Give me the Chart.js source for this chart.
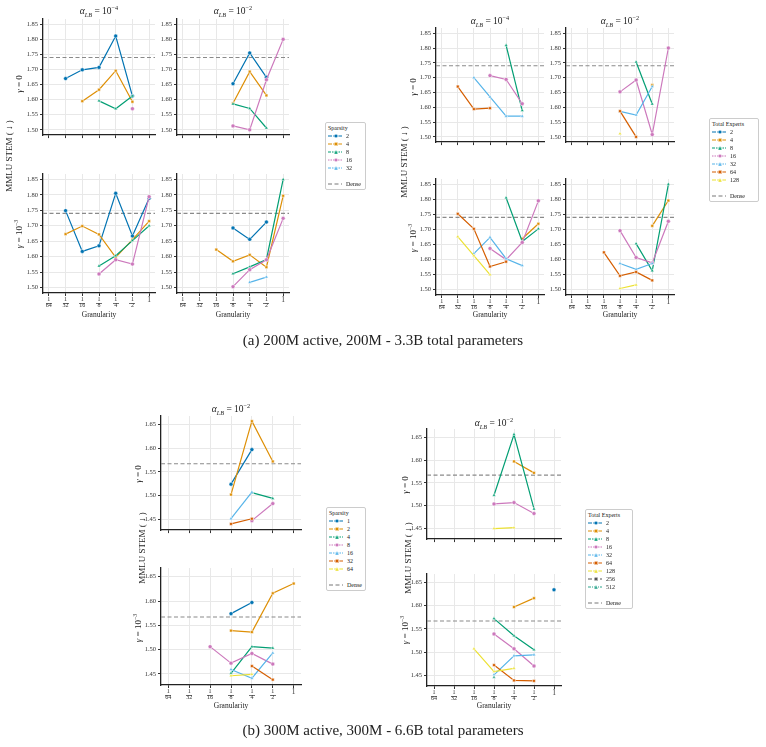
<!DOCTYPE html>
<html>
<head>
<meta charset="utf-8">
<script src="https://cdn.jsdelivr.net/npm/chart.js@4.4.0/dist/chart.umd.min.js"></script>
<style>
  body { margin: 0; width: 766px; height: 747px; position: relative; overflow: hidden; background: #fff;
         font-family: "Liberation Serif", "DejaVu Serif", serif; color: #222; }
  canvas { position: absolute; }
  .t { position: absolute; transform: translate(-50%, -50%); white-space: nowrap; }
  .r { position: absolute; transform: translate(-50%, -50%) rotate(-90deg); white-space: nowrap; }
  sub, sup { font-size: 65%; line-height: 0; }
  .leg { position: absolute; border: 1px solid #ccc; border-radius: 2px; background: #fff;
         font-size: 6px; line-height: 8px; padding: 1px 3px 1px 2px; box-sizing: border-box; }
  .leg .row { height: 8px; display: flex; align-items: center; }
  .leg svg { margin-right: 4px; }
</style>
</head>
<body>
<script>
// x categories (log2 granularity) and axis ticks
const granularity = ['1/64', '1/32', '1/16', '1/8', '1/4', '1/2', '1'];
const yTicks200M = [1.50, 1.55, 1.60, 1.65, 1.70, 1.75, 1.80, 1.85];
const yTicks300M = [1.45, 1.50, 1.55, 1.60, 1.65];
const yRange200M = [1.4825, 1.8675];
const yRange300M = [1.427, 1.668];
const dense200M = 1.74;
const dense300M = 1.567;

// hue levels
const sparsity200M = ['2', '4', '8', '16', '32'];
const experts200M = ['2', '4', '8', '16', '32', '64', '128'];
const sparsity300M = ['1', '2', '4', '8', '16', '32', '64'];
const experts300M = ['2', '4', '8', '16', '32', '64', '128', '256', '512'];

// (a) 200M, by sparsity
const a_sp_lb4_g0 = {
  '2':  [null, 1.670, 1.699, 1.707, 1.811, 1.612, null],
  '4':  [null, null, 1.595, 1.633, 1.696, 1.593, null],
  '8':  [null, null, null, 1.596, 1.570, 1.612, null],
  '16': [null, null, null, null, null, 1.570, null]
};
const a_sp_lb2_g0 = {
  '2':  [null, null, null, 1.653, 1.755, 1.674, null],
  '4':  [null, null, null, 1.588, 1.693, 1.614, null],
  '8':  [null, null, null, 1.586, 1.571, 1.506, null],
  '16': [null, null, null, 1.513, 1.500, 1.666, 1.800]
};
const a_sp_lb4_g3 = {
  '2':  [null, 1.749, 1.617, 1.635, 1.805, 1.667, 1.789],
  '4':  [null, 1.673, 1.699, 1.672, 1.598, 1.655, 1.715],
  '8':  [null, null, null, 1.570, 1.603, 1.652, 1.700],
  '16': [null, null, null, 1.544, 1.590, 1.576, 1.794]
};
const a_sp_lb2_g3 = {
  '2':  [null, null, null, 1.693, 1.656, 1.712, null],
  '4':  [null, null, 1.623, 1.585, 1.606, 1.566, 1.797],
  '8':  [null, null, null, 1.545, 1.567, 1.591, 1.850],
  '16': [null, null, null, 1.503, 1.558, 1.590, 1.724],
  '32': [null, null, null, null, 1.517, 1.534, null]
};

// (a) 200M, by total experts
const a_ex_lb4_g0 = {
  '8':  [null, null, null, null, 1.809, 1.589, null],
  '16': [null, null, null, 1.707, 1.694, 1.612, null],
  '32': [null, null, 1.700, 1.635, 1.570, 1.570, null],
  '64': [null, 1.670, 1.594, 1.597, null, null, null]
};
const a_ex_lb2_g0 = {
  '4':   [null, null, null, null, null, 1.675, null],
  '8':   [null, null, null, null, 1.753, 1.611, null],
  '16':  [null, null, null, 1.652, 1.692, 1.508, 1.800],
  '32':  [null, null, null, 1.586, 1.574, 1.670, null],
  '64':  [null, null, null, 1.587, 1.500, null, null],
  '128': [null, null, null, 1.511, null, null, null]
};
const a_ex_lb4_g3 = {
  '4':   [null, null, null, null, null, 1.669, 1.719],
  '8':   [null, null, null, null, 1.805, 1.660, 1.702],
  '16':  [null, null, null, 1.637, 1.600, 1.657, 1.795],
  '32':  [null, null, 1.620, 1.674, 1.603, 1.580, null],
  '64':  [null, 1.752, 1.702, 1.577, 1.593, null, null],
  '128': [null, 1.676, 1.613, 1.550, null, null, null]
};
const a_ex_lb2_g3 = {
  '4':   [null, null, null, null, null, 1.712, 1.796],
  '8':   [null, null, null, null, 1.653, 1.563, 1.850],
  '16':  [null, null, null, 1.696, 1.607, 1.589, 1.727],
  '32':  [null, null, null, 1.587, 1.568, 1.587, null],
  '64':  [null, null, 1.624, 1.546, 1.559, 1.531, null],
  '128': [null, null, null, 1.504, 1.516, null, null]
};

// (b) 300M, by sparsity
const b_sp_g0 = {
  '1':  [null, null, null, 1.524, 1.597, null, null],
  '2':  [null, null, null, 1.502, 1.657, 1.572, null],
  '4':  [null, null, null, null, 1.506, 1.494, null],
  '8':  [null, null, null, null, 1.447, 1.483, null],
  '16': [null, null, null, 1.451, 1.507, null, null],
  '32': [null, null, null, 1.440, 1.451, null, null]
};
const b_sp_g3 = {
  '1':  [null, null, null, 1.574, 1.597, null, null],
  '2':  [null, null, null, 1.539, 1.536, 1.616, 1.636],
  '4':  [null, null, null, 1.451, 1.506, 1.503, null],
  '8':  [null, null, 1.506, 1.472, 1.492, 1.470, null],
  '16': [null, null, null, 1.459, 1.441, 1.493, null],
  '32': [null, null, null, null, 1.466, 1.438, null],
  '64': [null, null, null, 1.446, 1.449, null, null]
};

// (b) 300M, by total experts
const b_ex_g0 = {
  '4':   [null, null, null, null, 1.597, 1.572, null],
  '8':   [null, null, null, 1.523, 1.656, 1.493, null],
  '16':  [null, null, null, 1.504, 1.507, 1.483, null],
  '128': [null, null, null, 1.450, 1.452, null, null]
};
const b_ex_g3 = {
  '2':   [null, null, null, null, null, null, 1.634],
  '4':   [null, null, null, null, 1.597, 1.616, null],
  '8':   [null, null, null, 1.572, 1.535, 1.505, null],
  '16':  [null, null, null, 1.539, 1.507, 1.470, null],
  '32':  [null, null, null, 1.451, 1.492, 1.494, null],
  '64':  [null, null, null, 1.472, 1.439, 1.438, null],
  '128': [null, null, 1.507, 1.458, 1.465, null, null],
  '512': [null, null, null, 1.446, null, null, null]
};

const palette = ['#0173b2', '#de8f05', '#029e73', '#cc78bc', '#56b4e9', '#d55e00', '#ece133', '#555555', '#2ca58d'];
const markers = ['circle', 'rect', 'triangle', 'circle', 'triangle', 'rect', 'triangle', 'rect', 'triangle'];
const dashes = ['4 1.2', '4 1.2', '3 1 1.5 1', '1.5 1', '3 1 1.5 1', '4 1.2', '4 1.2', '4 2', '3 1 1 1'];

Chart.defaults.font.family = '"Liberation Serif", serif';
Chart.defaults.color = '#333';

// draws the bar of the stacked 1/n tick labels
const fracBars = {
  id: 'fracBars',
  afterDraw(chart) {
    const s = chart.scales.x, ctx = chart.ctx;
    ctx.save();
    ctx.strokeStyle = '#333';
    ctx.lineWidth = 0.7;
    s.ticks.forEach((t, k) => {
      if (k === 6) return;
      const x = Math.round(s.getPixelForValue(t.value));
      const y = Math.round(s.top + 3 + 6.6) + 0.5;
      ctx.beginPath();
      ctx.moveTo(x - 3, y);
      ctx.lineTo(x + 3, y);
      ctx.stroke();
    });
    ctx.restore();
  }
};

function drawPanel(box, labels, series, yTicks, yRange, dense, showX) {
  const YW = 30, PT = 8, PR = 6, XH = showX ? 22 : 4;
  const l = Math.round(box.l), t = Math.round(box.t), r = Math.round(box.r), b = Math.round(box.b);
  const c = document.createElement('canvas');
  c.width = r - l + YW + PR;
  c.height = b - t + PT + XH;
  c.style.left = (l - YW) + 'px';
  c.style.top = (t - PT) + 'px';
  document.body.appendChild(c);

  const datasets = [{
    data: [{ x: -0.35, y: dense }, { x: 6.35, y: dense }],
    borderColor: '#8a8a8a', borderDash: [4, 2.5], borderWidth: 1.1, pointRadius: 0, order: 99
  }];
  labels.forEach((lab, i) => {
    if (!series[lab]) return;
    datasets.push({
      label: lab,
      data: series[lab].map((y, k) => ({ x: k, y: y })).filter(p => p.y !== null),
      borderColor: palette[i],
      backgroundColor: palette[i],
      pointBackgroundColor: palette[i],
      pointBorderColor: '#fff',
      pointBorderWidth: 0.5,
      pointRadius: 2,
      pointStyle: markers[i],
      borderWidth: 1.2,
      order: 20 - i
    });
  });

  new Chart(c, {
    type: 'line',
    data: { datasets: datasets },
    options: {
      responsive: false,
      animation: false,
      devicePixelRatio: 1,
      layout: { padding: { top: PT, right: PR, left: 0, bottom: 0 } },
      plugins: { legend: { display: false }, tooltip: { enabled: false } },
      scales: {
        x: {
          type: 'linear', min: -0.35, max: 6.35,
          afterBuildTicks: s => { s.ticks = granularity.map((g, k) => ({ value: k })); },
          afterFit: s => { s.height = XH; },
          ticks: {
            display: showX, padding: 0, maxRotation: 0, autoSkip: false, color: '#333',
            font: ctx => ({ size: ctx.index === 6 ? 7.5 : 6, lineHeight: 1.1 }),
            callback: (v, k) => {
              const g = granularity[k];
              return g.includes('/') ? g.split('/') : g;
            }
          },
          grid: { color: '#e8e8e8', tickColor: '#333', tickLength: 3 },
          border: { color: '#222', width: 1.3 }
        },
        y: {
          min: yRange[0], max: yRange[1],
          afterBuildTicks: s => { s.ticks = yTicks.map(v => ({ value: v })); },
          afterFit: s => { s.width = YW; },
          ticks: { padding: 2, font: { size: 6.5 }, color: '#333', callback: v => v.toFixed(2) },
          grid: { color: '#e8e8e8', tickColor: '#333', tickLength: 3 },
          border: { color: '#222', width: 1.3 }
        }
      }
    },
    plugins: showX ? [fracBars] : []
  });
}

function text(x, y, html, size, rotated) {
  const d = document.createElement('div');
  d.className = rotated ? 'r' : 't';
  d.style.left = x + 'px';
  d.style.top = y + 'px';
  d.style.fontSize = size + 'px';
  d.innerHTML = html;
  document.body.appendChild(d);
}

function markerSvg(i) {
  const c = palette[i];
  if (markers[i] === 'rect') return `<rect x="6.3" y="1.3" width="3.4" height="3.4" fill="${c}" stroke="#fff" stroke-width=".4"/>`;
  if (markers[i] === 'triangle') return `<polygon points="8,1 10,5 6,5" fill="${c}" stroke="#fff" stroke-width=".4"/>`;
  return `<circle cx="8" cy="3" r="1.8" fill="${c}" stroke="#fff" stroke-width=".4"/>`;
}

function legend(x, y, w, title, labels) {
  const d = document.createElement('div');
  d.className = 'leg';
  d.style.left = x + 'px';
  d.style.top = y + 'px';
  d.style.width = w + 'px';
  let html = `<div class="row">${title}</div>`;
  labels.forEach((lab, i) => {
    html += `<div class="row"><svg width="14" height="6"><line x1="0" y1="3" x2="14" y2="3" stroke="${palette[i]}" stroke-width="1.2" stroke-dasharray="${dashes[i]}"/>${markerSvg(i)}</svg>${lab}</div>`;
  });
  html += `<div class="row"></div>`;
  html += `<div class="row"><svg width="14" height="6"><line x1="0" y1="3" x2="14" y2="3" stroke="#777" stroke-width="1" stroke-dasharray="4 2.5"/></svg>Dense</div>`;
  d.innerHTML = html;
  document.body.appendChild(d);
}

const lb4 = '<i>α</i><sub><i>LB</i></sub> = 10<sup>−4</sup>';
const lb2 = '<i>α</i><sub><i>LB</i></sub> = 10<sup>−2</sup>';
const g0 = '<i>γ</i> = 0';
const g3 = '<i>γ</i> = 10<sup>−3</sup>';
const ylab = 'MMLU STEM ( ↓ )';

// (a) left group: sparsity
drawPanel({ l: 43, r: 155, t: 18.6, b: 137.4 }, sparsity200M, a_sp_lb4_g0, yTicks200M, yRange200M, dense200M, false);
drawPanel({ l: 177, r: 289, t: 18.6, b: 137.4 }, sparsity200M, a_sp_lb2_g0, yTicks200M, yRange200M, dense200M, false);
drawPanel({ l: 43, r: 155, t: 174, b: 293 }, sparsity200M, a_sp_lb4_g3, yTicks200M, yRange200M, dense200M, true);
drawPanel({ l: 177, r: 289, t: 174, b: 293 }, sparsity200M, a_sp_lb2_g3, yTicks200M, yRange200M, dense200M, true);
text(99, 11, lb4, 9.5);
text(233, 11, lb2, 9.5);
text(19, 84, g0, 9, true);
text(19, 234, g3, 9, true);
text(9, 156, ylab, 9, true);
text(99, 314, 'Granularity', 7.5);
text(233, 314, 'Granularity', 7.5);
legend(325, 122, 41, 'Sparsity', sparsity200M);

// (a) right group: total experts
drawPanel({ l: 436, r: 544, t: 28, b: 143.6 }, experts200M, a_ex_lb4_g0, yTicks200M, yRange200M, dense200M, false);
drawPanel({ l: 566, r: 674, t: 28, b: 143.6 }, experts200M, a_ex_lb2_g0, yTicks200M, yRange200M, dense200M, false);
drawPanel({ l: 436, r: 544, t: 179, b: 295 }, experts200M, a_ex_lb4_g3, yTicks200M, yRange200M, dense200M, true);
drawPanel({ l: 566, r: 674, t: 179, b: 295 }, experts200M, a_ex_lb2_g3, yTicks200M, yRange200M, dense200M, true);
text(490, 21, lb4, 9.5);
text(620, 21, lb2, 9.5);
text(413, 87, g0, 9, true);
text(413, 238, g3, 9, true);
text(404, 162, ylab, 9, true);
text(490, 314, 'Granularity', 7.5);
text(620, 314, 'Granularity', 7.5);
legend(709, 118, 50, 'Total Experts', experts200M);

text(383, 340, '(a) 200M active, 200M - 3.3B total parameters', 15);

// (b) left group: sparsity
drawPanel({ l: 161, r: 301, t: 415.6, b: 532.1 }, sparsity300M, b_sp_g0, yTicks300M, yRange300M, dense300M, false);
drawPanel({ l: 161, r: 301, t: 568, b: 685 }, sparsity300M, b_sp_g3, yTicks300M, yRange300M, dense300M, true);
text(231, 409, lb2, 9.5);
text(138, 474, g0, 9, true);
text(138, 628, g3, 9, true);
text(142, 548, ylab, 9, true);
text(231, 705, 'Granularity', 7.5);
legend(326, 507, 40, 'Sparsity', sparsity300M);

// (b) right group: total experts
drawPanel({ l: 427, r: 561, t: 429.3, b: 541.4 }, experts300M, b_ex_g0, yTicks300M, yRange300M, dense300M, false);
drawPanel({ l: 427, r: 561, t: 574.3, b: 686.4 }, experts300M, b_ex_g3, yTicks300M, yRange300M, dense300M, true);
text(494, 423, lb2, 9.5);
text(405, 485, g0, 9, true);
text(405, 630, g3, 9, true);
text(408, 558, ylab, 9, true);
text(494, 705, 'Granularity', 7.5);
legend(585, 509, 48, 'Total Experts', experts300M);

text(383, 730, '(b) 300M active, 300M - 6.6B total parameters', 15);
</script>
</body>
</html>
